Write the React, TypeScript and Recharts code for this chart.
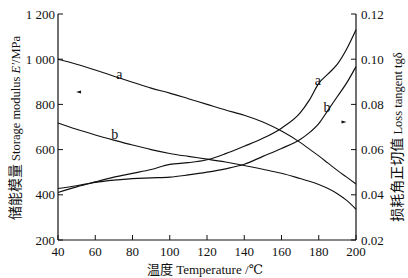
// Storage modulus / loss tangent vs temperature, two samples (a, b)
// Dual Y axes, serif fonts, inward ticks like the printed figure

import { LineChart, Line, XAxis, YAxis, ReferenceDot } from 'recharts';

const temps = [40, 50, 60, 70, 80, 90, 100, 110, 120, 130, 140, 150, 160, 170, 175, 180, 185, 190, 195, 200];
const modulusA = [1000, 978, 952, 925, 898, 872, 850, 825, 800, 775, 752, 722, 682, 632, 602, 572, 540, 508, 478, 448];
const modulusB = [718, 690, 665, 642, 620, 600, 583, 570, 558, 545, 530, 513, 495, 472, 460, 446, 428, 405, 375, 336];
const tanA = [0.041, 0.0435, 0.0457, 0.0478, 0.0495, 0.0512, 0.0535, 0.0542, 0.0555, 0.0582, 0.0615, 0.065, 0.0695, 0.0762, 0.082, 0.0893, 0.0935, 0.0978, 0.1045, 0.113];
const tanB = [0.0428, 0.044, 0.0455, 0.0465, 0.0472, 0.0475, 0.0478, 0.0488, 0.05, 0.0515, 0.0535, 0.057, 0.0605, 0.0645, 0.0675, 0.0715, 0.0775, 0.0835, 0.0895, 0.0967];

const xTicks = [40, 60, 80, 100, 120, 140, 160, 180, 200];
const leftTicks = [200, 400, 600, 800, 1000, 1200];
const rightTicks = [0.02, 0.04, 0.06, 0.08, 0.1, 0.12];

const data = temps.map((t, i) => ({
  t,
  ea: modulusA[i],
  eb: modulusB[i],
  ta: tanA[i],
  tb: tanB[i],
}));

const FONT = "'Liberation Serif', 'Times New Roman', 'DejaVu Serif', serif";
const CJK = "'Noto Sans CJK SC', sans-serif";
const INK = '#111';

const tickStyle = { fill: INK, fontSize: 13, style: { fontFamily: FONT } };
const axisLine = { stroke: INK, strokeWidth: 1.2 };

const fmtLeft = (v: number) => (v >= 1000 ? `${Math.floor(v / 1000)} ${String(v % 1000).padStart(3, '0')}` : String(v));
const fmtRight = (v: number) => v.toFixed(2);

function letter(text: string) {
  return { value: text, position: 'center' as const, fill: INK, fontSize: 14, style: { fontFamily: FONT } };
}

function LeftArrow(props: { cx?: number; cy?: number }) {
  const { cx = 0, cy = 0 } = props;
  return <polygon points={`${cx - 3},${cy} ${cx + 2},${cy - 1.5} ${cx + 2},${cy + 1.5}`} fill={INK} />;
}

function RightArrow(props: { cx?: number; cy?: number }) {
  const { cx = 0, cy = 0 } = props;
  return <polygon points={`${cx + 3},${cy} ${cx - 2},${cy - 1.5} ${cx - 2},${cy + 1.5}`} fill={INK} />;
}

export default function App() {
  return (
    <div style={{ position: 'relative', width: 408, height: 278, background: '#fff', fontFamily: FONT }}>
      <style>{`body{margin:0}`}</style>
      <LineChart width={408} height={278} data={data} margin={{ top: 14, right: 0, bottom: 0, left: 0 }}>
        <XAxis
          dataKey="t"
          type="number"
          domain={[40, 200]}
          ticks={xTicks}
          tick={tickStyle}
          axisLine={axisLine}
          tickLine={{ stroke: INK }}
          tickSize={-5}
          tickMargin={12}
          height={38}
        />
        <YAxis
          yAxisId="left"
          domain={[200, 1200]}
          ticks={leftTicks}
          tickFormatter={fmtLeft}
          tick={tickStyle}
          axisLine={axisLine}
          tickLine={{ stroke: INK }}
          tickSize={-5}
          tickMargin={8}
          width={58}
        />
        <YAxis
          yAxisId="right"
          orientation="right"
          domain={[0.02, 0.12]}
          ticks={rightTicks}
          tickFormatter={fmtRight}
          tick={tickStyle}
          axisLine={axisLine}
          tickLine={{ stroke: INK }}
          tickSize={-5}
          tickMargin={10}
          width={52}
        />
        <Line yAxisId="left" dataKey="ea" type="monotone" stroke={INK} strokeWidth={1.1} dot={false} isAnimationActive={false} />
        <Line yAxisId="left" dataKey="eb" type="monotone" stroke={INK} strokeWidth={1.1} dot={false} isAnimationActive={false} />
        <Line yAxisId="right" dataKey="ta" type="monotone" stroke={INK} strokeWidth={1.2} dot={false} isAnimationActive={false} />
        <Line yAxisId="right" dataKey="tb" type="monotone" stroke={INK} strokeWidth={1.2} dot={false} isAnimationActive={false} />

        <ReferenceDot yAxisId="left" x={73} y={935} r={0} label={letter('a')} />
        <ReferenceDot yAxisId="left" x={70.5} y={668} r={0} label={letter('b')} />
        <ReferenceDot yAxisId="right" x={179.5} y={0.0908} r={0} label={letter('a')} />
        <ReferenceDot yAxisId="right" x={184.4} y={0.0789} r={0} label={letter('b')} />
        <ReferenceDot yAxisId="left" x={51.3} y={855} shape={<LeftArrow />} />
        <ReferenceDot yAxisId="right" x={193.3} y={0.0722} shape={<RightArrow />} />
      </LineChart>

      <svg width={408} height={278} style={{ position: 'absolute', left: 0, top: 0, pointerEvents: 'none', fontFamily: FONT }}>
        <text transform="translate(20,128) rotate(-90)" textAnchor="middle" fill={INK} fontSize={12.5} style={{ fontFamily: FONT }}>
          <tspan style={{ fontFamily: CJK }} fontSize={14}>储能模量</tspan>
          <tspan> Storage modulus </tspan>
          <tspan fontStyle="italic">E′</tspan>
          <tspan>/MPa</tspan>
        </text>
        <text transform="translate(402,137) rotate(-90)" textAnchor="middle" fill={INK} fontSize={12.5} style={{ fontFamily: FONT }}>
          <tspan style={{ fontFamily: CJK }} fontSize={14}>损耗角正切值</tspan>
          <tspan> Loss tangent tgδ</tspan>
        </text>
        <text x={205} y={274} textAnchor="middle" fill={INK} fontSize={13} style={{ fontFamily: FONT }}>
          <tspan style={{ fontFamily: CJK }}>温度</tspan>
          <tspan> Temperature /℃</tspan>
        </text>
      </svg>
    </div>
  );
}
